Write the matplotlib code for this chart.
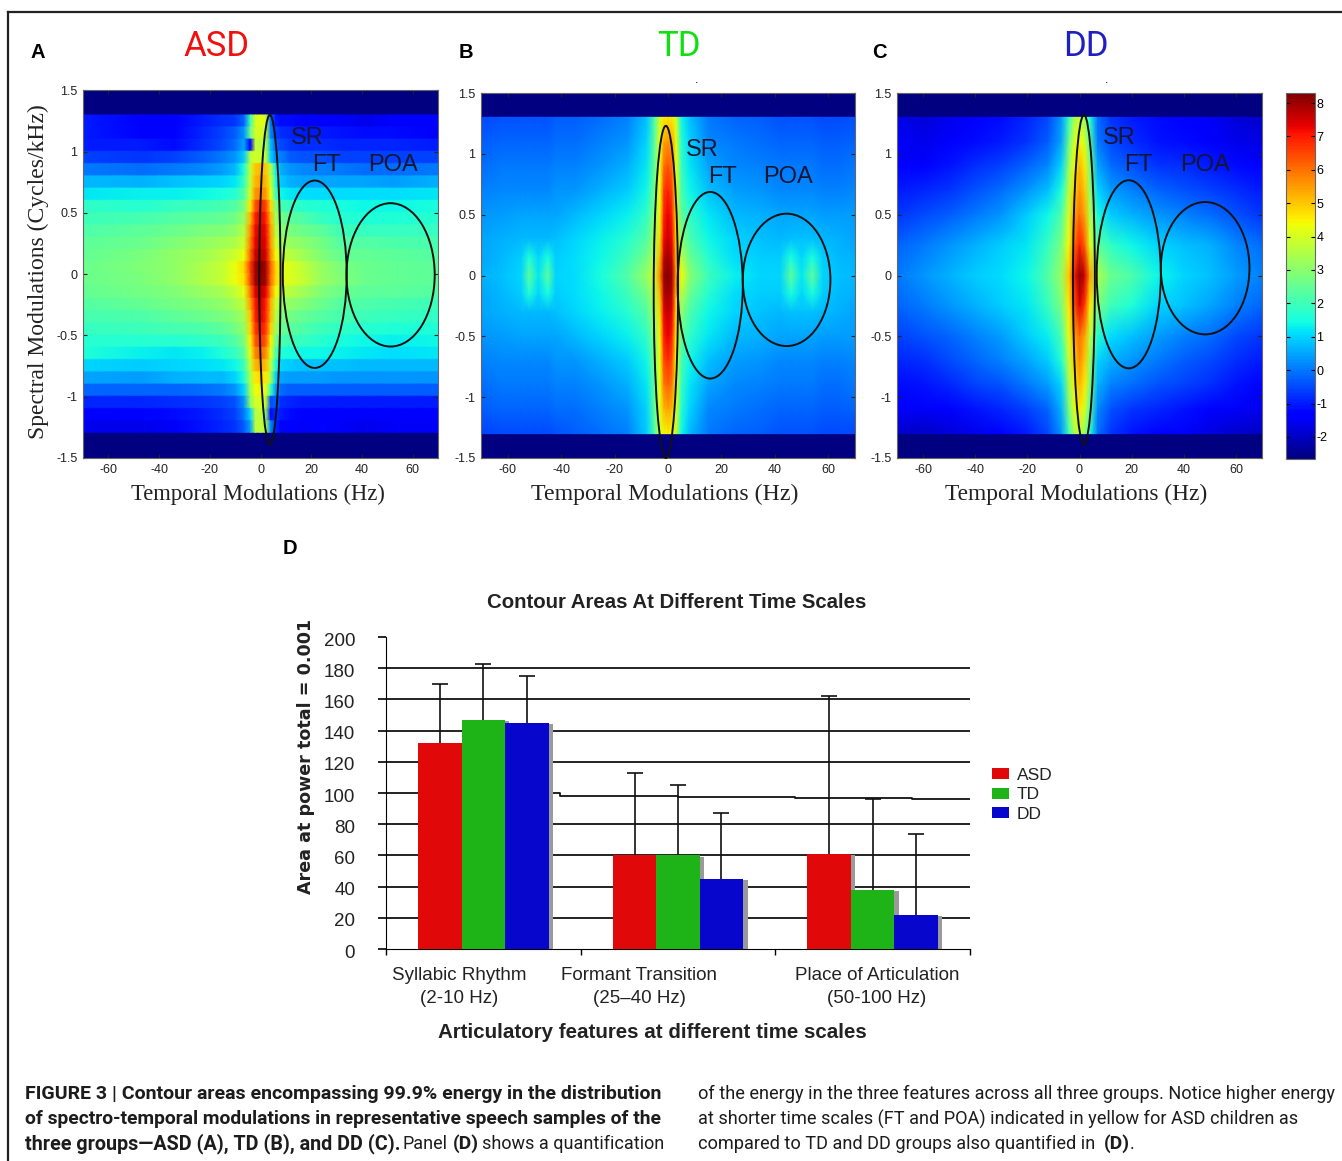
import matplotlib
matplotlib.use('Agg')
import matplotlib.pyplot as plt
import numpy as np
from matplotlib.lines import Line2D
from matplotlib.patches import Ellipse

W, H = 1342, 1161

# panel A: temporal positions (Hz), one row of cells per 0.1 cycles/kHz, top to bottom
a_x = [-70, -47, -34, -23, -15, -10, -6.5, -4, -2, 0, 2, 4, 6, 8, 11.5, 17, 24, 32, 41, 52, 70]
a_tops = [1.3, 1.2, 1.1, 1.0, 0.9, 0.8, 0.7, 0.6, 0.5, 0.4, 0.3, 0.2, 0.1, 0.0, -0.1, -0.2, -0.3, -0.4, -0.5, -0.6, -0.7, -0.8, -0.9, -1.0, -1.1, -1.2]
a_vals = [
    [-1.0, -1.4, -1.3, -1.0, -0.8, -0.7, -0.2, 2.0, 4.0, 4.2, 4.0, 0.0, -1.0, -1.2, -1.2, -1.3, -1.3, -1.5, -1.6, -1.4, -1.3],
    [-1.0, -1.3, -1.3, -0.9, -0.6, -0.3, 0.3, 2.5, 4.0, 4.0, 3.8, 0.2, -0.6, -0.8, -0.9, -1.0, -1.0, -1.1, -1.2, -1.2, -1.5],
    [-1.0, -1.0, -1.2, -0.8, -0.5, -0.1, 0.5, -1.5, 3.8, 3.6, 3.6, 0.8, -0.3, -0.5, -0.7, -0.8, -0.8, -0.9, -0.9, -0.9, -1.0],
    [-0.6, -0.7, -0.6, -0.3, 0.0, 0.3, 0.9, 3.6, 4.0, 3.8, 3.8, 1.0, 0.2, 0.1, -0.3, -0.4, -0.4, -0.6, -0.6, -0.6, -0.6],
    [0.0, -0.1, 0.0, 0.2, 0.4, 0.7, 1.6, 3.8, 5.0, 5.2, 5.0, 3.6, 1.3, 0.6, 0.3, 0.2, 0.1, 0.0, -0.1, -0.1, 0.0],
    [0.7, 0.6, 0.8, 0.9, 1.0, 1.2, 1.9, 3.8, 5.2, 5.4, 5.2, 4.0, 1.5, 0.9, 0.6, 0.5, 0.5, 0.5, 0.5, 0.4, 0.6],
    [1.2, 1.3, 1.3, 1.4, 1.5, 1.7, 2.3, 4.0, 5.6, 5.8, 5.6, 4.3, 2.0, 1.4, 1.2, 1.1, 1.1, 1.1, 1.1, 1.1, 1.2],
    [1.8, 1.7, 1.9, 2.0, 2.1, 2.3, 2.8, 4.6, 6.4, 6.9, 6.6, 4.8, 3.0, 2.1, 1.9, 1.7, 1.6, 1.5, 1.4, 1.4, 1.5],
    [2.0, 2.1, 2.3, 2.4, 2.5, 2.7, 3.2, 5.2, 7.0, 7.3, 7.0, 5.2, 3.4, 2.7, 2.4, 2.2, 1.9, 1.7, 1.6, 1.6, 1.7],
    [2.2, 2.4, 2.6, 2.8, 2.9, 3.1, 3.6, 5.6, 7.2, 7.5, 7.2, 5.5, 3.7, 3.0, 2.8, 2.6, 2.4, 2.0, 1.9, 1.9, 1.9],
    [2.4, 2.6, 2.9, 3.1, 3.3, 3.5, 3.9, 5.8, 7.3, 7.6, 7.3, 5.6, 4.0, 3.3, 3.2, 3.0, 2.7, 2.3, 2.3, 2.2, 2.1],
    [2.5, 2.8, 3.1, 3.3, 3.6, 3.9, 4.3, 6.1, 7.6, 7.8, 7.5, 5.8, 4.4, 3.8, 3.6, 3.3, 2.9, 2.5, 2.5, 2.4, 2.3],
    [2.6, 2.9, 3.1, 3.5, 3.8, 4.3, 4.8, 6.6, 8.0, 8.3, 7.9, 6.2, 4.8, 4.2, 4.1, 3.7, 3.2, 2.8, 2.6, 2.5, 2.4],
    [2.6, 2.8, 3.1, 3.5, 3.8, 4.3, 4.7, 6.5, 8.0, 8.2, 7.9, 6.1, 4.8, 4.2, 4.1, 3.8, 3.2, 2.9, 2.6, 2.5, 2.4],
    [2.5, 2.7, 2.9, 3.2, 3.4, 3.8, 4.2, 5.9, 7.4, 7.8, 7.3, 5.7, 4.4, 3.8, 3.6, 3.3, 2.9, 2.6, 2.4, 2.4, 2.3],
    [2.3, 2.5, 2.7, 2.9, 3.1, 3.4, 3.8, 5.4, 7.1, 7.5, 7.0, 5.3, 3.9, 3.2, 3.1, 2.9, 2.6, 2.3, 2.2, 2.1, 2.0],
    [2.1, 2.2, 2.4, 2.6, 2.8, 3.0, 3.4, 5.0, 7.0, 7.4, 6.9, 5.2, 3.6, 2.9, 2.7, 2.5, 2.3, 2.1, 2.0, 1.9, 1.8],
    [1.9, 2.0, 2.1, 2.2, 2.4, 2.7, 3.1, 4.8, 6.7, 7.1, 6.7, 4.9, 3.3, 2.6, 2.4, 2.2, 2.0, 1.8, 1.7, 1.6, 1.6],
    [1.7, 1.7, 1.7, 1.8, 2.0, 2.3, 2.8, 4.5, 6.3, 6.8, 6.3, 4.5, 2.8, 2.2, 2.0, 1.9, 1.7, 1.5, 1.4, 1.3, 1.4],
    [1.6, 1.3, 1.2, 1.3, 1.6, 1.9, 2.4, 4.2, 5.8, 6.1, 5.7, 4.2, 2.2, 1.6, 1.5, 1.4, 1.4, 1.3, 1.2, 1.1, 1.2],
    [1.0, 0.9, 1.0, 1.1, 1.2, 1.4, 2.0, 3.8, 5.2, 5.4, 5.1, 3.8, 1.5, 1.0, 0.9, 0.8, 0.8, 0.8, 0.7, 0.7, 0.7],
    [0.5, 0.4, 0.6, 0.7, 0.7, 1.0, 1.6, 3.5, 4.6, 4.8, 4.6, 3.4, 1.0, 0.5, 0.4, 0.4, 0.4, 0.3, 0.3, 0.3, 0.3],
    [-0.2, -0.2, -0.2, -0.1, 0.0, 0.3, 1.0, 3.3, 4.3, 4.5, 4.3, 2.0, 0.4, -0.1, -0.3, -0.3, -0.3, -0.3, -0.3, -0.3, -0.3],
    [-0.9, -0.9, -0.8, -0.7, -0.6, -0.4, 0.3, 3.0, 4.0, 4.0, 3.8, -0.4, -0.3, -0.8, -0.9, -1.0, -1.0, -1.0, -1.0, -1.0, -1.0],
    [-1.4, -1.3, -1.2, -1.0, -0.8, -0.6, 0.0, 1.0, 3.6, 3.8, 3.0, -1.2, -0.8, -1.0, -1.2, -1.3, -1.3, -1.3, -1.4, -1.4, -1.3],
    [-1.6, -1.6, -1.5, -1.1, -0.9, -0.7, -0.3, 0.5, 3.6, 3.8, 3.4, 0.2, -0.9, -1.3, -1.4, -1.5, -1.4, -1.5, -1.6, -1.5, -1.5],
]

# panel B, smooth
b_x = [-70, -62, -55, -52, -48.5, -45, -42, -35, -25, -15, -8, -5, -3, -1.5, 0, 1.5, 3, 5, 8, 15, 25, 35, 42, 46, 50, 54, 58, 64, 70]
b_y = [1.3, 1.1, 0.9, 0.7, 0.5, 0.3, 0.15, 0, -0.15, -0.3, -0.5, -0.7, -0.9, -1.1, -1.3]
b_vals = [
    [-0.5, -0.4, -0.4, -0.4, -0.4, -0.4, -0.3, -0.3, -0.1, 0.1, 0.8, 2.2, 4.0, 4.5, 4.6, 4.5, 4.0, 1.4, 0.8, 0.0, -0.2, -0.3, -0.4, -0.4, -0.4, -0.4, -0.5, -0.5, -0.4],
    [-0.3, -0.2, -0.2, -0.2, -0.2, -0.2, -0.1, -0.1, 0.1, 0.3, 1.0, 2.4, 4.2, 5.4, 5.6, 5.4, 4.2, 1.7, 1.0, 0.2, 0.0, -0.1, -0.2, -0.2, -0.2, -0.2, -0.3, -0.3, -0.2],
    [-0.1, 0.0, 0.0, 0.0, 0.0, 0.0, 0.1, 0.1, 0.3, 0.6, 1.2, 2.5, 4.3, 6.0, 6.3, 6.0, 4.3, 1.9, 1.2, 0.5, 0.2, 0.1, 0.0, 0.0, 0.0, 0.0, -0.1, -0.1, 0.0],
    [0.1, 0.2, 0.2, 0.2, 0.2, 0.2, 0.3, 0.3, 0.6, 0.9, 1.4, 2.7, 4.4, 6.6, 6.9, 6.5, 4.4, 2.1, 1.4, 0.8, 0.4, 0.3, 0.2, 0.2, 0.2, 0.2, 0.1, 0.1, 0.2],
    [0.3, 0.4, 0.5, 0.5, 0.5, 0.5, 0.5, 0.7, 1.0, 1.3, 1.8, 2.9, 4.5, 6.9, 7.3, 6.9, 4.6, 2.4, 1.8, 1.2, 0.7, 0.6, 0.5, 0.5, 0.5, 0.5, 0.4, 0.4, 0.4],
    [0.5, 0.6, 0.7, 0.7, 0.7, 0.7, 0.8, 1.0, 1.3, 1.7, 2.3, 3.3, 4.8, 7.2, 7.6, 7.2, 4.9, 3.0, 2.2, 1.4, 1.0, 0.8, 0.7, 0.8, 0.8, 0.8, 0.7, 0.6, 0.5],
    [0.5, 0.7, 0.9, 1.6, 1.0, 1.5, 0.9, 1.1, 1.4, 2.0, 2.7, 3.6, 5.2, 7.6, 8.0, 7.5, 5.2, 3.6, 2.6, 1.7, 1.1, 0.9, 0.9, 1.5, 1.0, 1.5, 0.9, 0.7, 0.6],
    [0.6, 0.8, 1.0, 2.4, 1.2, 2.4, 1.0, 1.1, 1.5, 2.3, 3.2, 4.0, 5.8, 8.0, 8.3, 7.9, 5.6, 4.4, 3.0, 2.0, 1.3, 1.0, 1.0, 2.4, 1.2, 2.4, 1.0, 0.8, 0.7],
    [0.5, 0.7, 0.9, 1.6, 1.0, 1.5, 0.9, 1.1, 1.4, 2.0, 2.7, 3.6, 5.2, 7.7, 8.1, 7.6, 5.2, 3.6, 2.6, 1.7, 1.1, 0.9, 0.9, 1.5, 1.0, 1.5, 0.9, 0.7, 0.6],
    [0.5, 0.6, 0.7, 0.7, 0.7, 0.7, 0.8, 1.0, 1.3, 1.7, 2.3, 3.3, 4.8, 7.3, 7.7, 7.3, 4.9, 3.0, 2.2, 1.4, 1.0, 0.8, 0.7, 0.8, 0.8, 0.8, 0.7, 0.6, 0.5],
    [0.3, 0.4, 0.5, 0.5, 0.5, 0.5, 0.5, 0.7, 1.0, 1.3, 1.8, 2.9, 4.5, 7.0, 7.3, 6.9, 4.6, 2.4, 1.8, 1.2, 0.7, 0.6, 0.5, 0.5, 0.5, 0.5, 0.4, 0.4, 0.4],
    [0.1, 0.2, 0.2, 0.2, 0.2, 0.2, 0.3, 0.3, 0.6, 0.9, 1.4, 2.7, 4.4, 6.5, 6.8, 6.4, 4.4, 2.1, 1.4, 0.8, 0.4, 0.3, 0.2, 0.2, 0.2, 0.2, 0.1, 0.1, 0.2],
    [-0.1, 0.0, 0.0, 0.0, 0.0, 0.0, 0.1, 0.1, 0.3, 0.6, 1.2, 2.5, 4.3, 5.9, 6.2, 5.9, 4.3, 1.9, 1.2, 0.5, 0.2, 0.1, 0.0, 0.0, 0.0, 0.0, -0.1, -0.1, 0.0],
    [-0.3, -0.2, -0.2, -0.2, -0.2, -0.2, -0.1, -0.1, 0.1, 0.3, 1.0, 2.4, 4.2, 5.2, 5.4, 5.2, 4.2, 1.7, 1.0, 0.2, 0.0, -0.1, -0.2, -0.2, -0.2, -0.2, -0.3, -0.3, -0.2],
    [-0.6, -0.5, -0.5, -0.5, -0.5, -0.5, -0.4, -0.3, -0.1, 0.1, 0.9, 2.2, 4.0, 4.4, 4.5, 4.4, 3.8, 1.4, 0.7, 0.0, -0.2, -0.3, -0.4, -0.4, -0.4, -0.4, -0.5, -0.5, -0.5],
]

# panel C, smooth
c_x = [-70, -60, -50, -40, -30, -20, -12, -7, -4, -2, 0, 2, 4, 7, 12, 20, 30, 40, 50, 60, 70]
c_y = [1.3, 1.1, 0.9, 0.7, 0.5, 0.25, 0, -0.25, -0.5, -0.7, -0.9, -1.1, -1.3]
c_vals = [
    [-1.6, -1.8, -1.6, -1.4, -1.2, -0.9, -0.5, 0.3, 1.8, 3.4, 3.6, 3.2, 1.5, -0.1, -0.7, -1.0, -1.2, -1.3, -1.5, -1.8, -1.9],
    [-1.5, -1.6, -1.4, -1.2, -1.0, -0.7, -0.3, 0.5, 2.6, 4.0, 4.4, 4.0, 2.2, 0.0, -0.5, -0.8, -1.1, -1.2, -1.4, -1.6, -1.7],
    [-1.3, -1.3, -1.1, -0.8, -0.6, -0.2, 0.2, 1.0, 3.2, 4.4, 5.2, 4.6, 2.8, 0.5, -0.1, -0.4, -0.7, -0.8, -1.0, -1.2, -1.4],
    [-1.0, -0.9, -0.7, -0.4, -0.1, 0.3, 0.8, 1.5, 3.6, 4.8, 5.6, 5.0, 3.2, 1.0, 0.4, 0.1, -0.2, -0.4, -0.6, -0.8, -1.0],
    [-0.7, -0.5, -0.3, 0.0, 0.3, 0.9, 1.4, 2.2, 4.0, 5.4, 6.0, 5.4, 3.6, 1.5, 0.9, 0.6, 0.3, 0.1, -0.1, -0.4, -0.7],
    [-0.2, 0.0, 0.3, 0.6, 0.9, 1.2, 1.9, 2.8, 4.4, 6.0, 7.0, 6.2, 4.2, 2.4, 1.8, 1.4, 1.0, 0.8, 0.6, 0.2, -0.1],
    [0.0, 0.3, 0.6, 0.9, 1.1, 1.4, 2.3, 3.2, 5.0, 7.0, 8.2, 7.5, 5.5, 3.5, 2.6, 2.2, 1.4, 1.0, 0.8, 0.4, 0.1],
    [-0.2, 0.0, 0.3, 0.6, 0.9, 1.2, 1.9, 2.8, 4.6, 6.3, 7.4, 6.6, 4.6, 2.8, 2.0, 1.6, 1.0, 0.8, 0.5, 0.1, -0.2],
    [-0.6, -0.4, -0.2, 0.1, 0.4, 0.9, 1.3, 2.1, 4.2, 5.4, 6.0, 5.4, 3.8, 1.7, 1.1, 0.8, 0.4, 0.1, -0.1, -0.5, -0.7],
    [-0.9, -0.8, -0.5, -0.2, 0.1, 0.5, 0.9, 1.6, 3.8, 4.9, 5.7, 5.0, 3.3, 1.0, 0.6, 0.3, 0.0, -0.3, -0.5, -0.8, -1.0],
    [-1.2, -1.1, -0.9, -0.6, -0.4, 0.0, 0.4, 1.0, 3.3, 4.5, 5.2, 4.6, 2.9, 0.6, 0.1, -0.1, -0.4, -0.6, -0.8, -1.1, -1.3],
    [-1.5, -1.5, -1.3, -1.1, -0.9, -0.6, -0.2, 0.6, 2.8, 4.1, 4.6, 4.0, 2.3, 0.2, -0.4, -0.7, -0.9, -1.1, -1.3, -1.5, -1.6],
    [-1.9, -2.0, -1.8, -1.6, -1.3, -1.0, -0.5, 0.3, 2.0, 3.5, 3.6, 3.2, 1.6, -0.1, -0.7, -1.1, -1.3, -1.5, -1.7, -1.9, -2.0],
]

# contours: SR, FT, POA as centre and half axes in (Hz, cycles/kHz)
a_centres = [(3.7, -0.045), (21.4, 0.0), (51.3, -0.005)]
a_axes = [(4.2, 1.345), (12.6, 0.765), (17.4, 0.585)]
b_centres = [(-0.8, -0.135), (15.8, -0.08), (44.4, -0.036)]
b_axes = [(4.55, 1.365), (12.2, 0.767), (16.4, 0.544)]
c_centres = [(1.7, -0.035), (18.9, 0.01), (48.2, 0.06)]
c_axes = [(4.2, 1.355), (12.3, 0.773), (17.0, 0.544)]
contour_names = ['SR', 'FT', 'POA']

x_ticks = [-60, -40, -20, 0, 20, 40, 60]
y_ticks = [-1.5, -1, -0.5, 0, 0.5, 1, 1.5]
y_labels = ['-1.5', '-1', '-0.5', '0', '0.5', '1', '1.5']
cbar_ticks = [-2, -1, 0, 1, 2, 3, 4, 5, 6, 7, 8]

# panel D
features = ['Syllabic Rhythm\n(2-10 Hz)', 'Formant Transition\n(25\u201340 Hz)', 'Place of Articulation\n(50-100 Hz)']
groups = ['ASD', 'TD', 'DD']
asd_area = [132, 60, 61]
td_area = [147, 60, 38]
dd_area = [145, 45, 22]
asd_top = [170, 113, 162]
td_top = [183, 105, 96]
dd_top = [175, 87, 74]
grid_values = [20, 40, 60, 80, 120, 140, 160, 180]
drift_x = [-0.5, 0.394, 0.394, 1.0, 1.0, 1.6, 1.6, 2.2, 2.2, 2.5]
drift_y = [100, 100, 98.2, 98.2, 97.6, 97.6, 96.9, 96.9, 96.1, 96.1]

plt.rcParams['font.family'] = ['Liberation Sans', 'DejaVu Sans']
plt.rcParams['axes.unicode_minus'] = False
fig = plt.figure(figsize=(W / 100, H / 100), dpi=100, facecolor='white')


def add_axes(l, t, r, b):
    return fig.add_axes([l / W, 1 - b / H, (r - l) / W, (b - t) / H])


def put(x, y, s, **kw):
    kw.setdefault('ha', 'center')
    kw.setdefault('va', 'center')
    return fig.text(x / W, 1 - y / H, s, **kw)


def style_map(ax):
    ax.set_facecolor(plt.get_cmap('jet')(0.0))
    ax.set_xlim(-70, 70)
    ax.set_ylim(-1.5, 1.5)
    ax.set_xticks(x_ticks)
    ax.set_yticks(y_ticks, y_labels)
    ax.tick_params(direction='in', length=3, top=True, right=True, labelsize=9, pad=4, width=0.8, colors='#222222')
    for s in ax.spines.values():
        s.set_color('#666666')


def contours(ax, centres, axes):
    for c, a in zip(centres, axes):
        ax.add_patch(Ellipse(c, 2 * a[0], 2 * a[1], fill=False, ec='#111111', lw=1.4, clip_on=False, zorder=3))


vmin, vmax = -2.66, 8.3

ax_a = add_axes(83, 90.5, 438, 458)
# every row keeps its value down its own cell, so the rows stay as steps
a_y = [v for top in a_tops for v in (top, top - 0.09)]
mesh = ax_a.pcolormesh(a_x, a_y, np.repeat(a_vals, 2, axis=0), cmap='jet', vmin=vmin, vmax=vmax, shading='gouraud')
style_map(ax_a)
contours(ax_a, a_centres, a_axes)

ax_b = add_axes(481, 93, 855, 458)
ax_b.pcolormesh(b_x, b_y, np.array(b_vals), cmap='jet', vmin=vmin, vmax=vmax, shading='gouraud')
style_map(ax_b)
contours(ax_b, b_centres, b_axes)

ax_c = add_axes(897, 93, 1262, 458)
ax_c.pcolormesh(c_x, c_y, np.array(c_vals), cmap='jet', vmin=vmin, vmax=vmax, shading='gouraud')
style_map(ax_c)
contours(ax_c, c_centres, c_axes)

cax = add_axes(1286, 93, 1315, 459)
cb = fig.colorbar(mesh, cax=cax, ticks=cbar_ticks)
cb.outline.set_edgecolor('#666666')
cax.tick_params(direction='in', length=3, left=True, right=True, labelsize=9, pad=1, width=0.8)

# panel titles, letters, contour names
for x, s, c in [(216, 'ASD', '#f01010'), (679, 'TD', '#10e010'), (1086, 'DD', '#2020c0')]:
    put(x, 47, s, color=c, fontsize=25, family='Roboto')
for x, y, s in [(38, 53, 'A'), (466, 53, 'B'), (879, 53, 'C'), (290, 549, 'D')]:
    put(x, y, s, fontsize=14.5, fontweight='bold')
for xs, ys in [((307, 327, 393), (138, 165, 165)), ((702, 722, 788), (150, 177, 177)), ((1119, 1139, 1205), (138, 165, 165))]:
    for x, y, s in zip(xs, ys, contour_names):
        put(x, y, s, fontsize=17, color='#151530')
for x, size in [(258, 16.3), (665, 17.2), (1076, 16.8)]:
    put(x, 494, 'Temporal Modulations (Hz)', family='Liberation Serif', fontsize=size, color='#222222')
put(38, 272, 'Spectral Modulations (Cycles/kHz)', family='Liberation Serif', fontsize=17, color='#222222', rotation=90)
put(697, 80, '.', fontsize=9)
put(1107, 80, '.', fontsize=9)

# panel D
ax_d = add_axes(386, 637, 970, 949)
pos = np.arange(3)
bw = 0.2234
offs = [-bw, 0, bw]
cols = ['#e00808', '#1eb418', '#0606cc']
gray_dx = 0.022
ax_d.hlines(grid_values, -0.5, 2.5, color='#111111', lw=1.3, zorder=1)
ax_d.plot(drift_x, drift_y, color='#111111', lw=1.3, zorder=1)
handles = []
for off, vals, tops, col, name in zip(offs, [asd_area, td_area, dd_area], [asd_top, td_top, dd_top], cols, groups):
    ax_d.bar(pos + off + gray_dx, np.array(vals) - 1, bw, color='#9a9a9a', zorder=2)
    handles.append(ax_d.bar(pos + off, vals, bw, color=col, zorder=3, label=name))
    ax_d.vlines(pos + off, vals, tops, color='#111111', lw=1.2, zorder=4)
    ax_d.plot(pos + off, tops, ls='none', marker='_', ms=12, mew=1.2, color='#111111', zorder=4)
ax_d.set_xlim(-0.5, 2.5)
ax_d.set_ylim(0, 200)
ax_d.set_xticks([-0.5, 0.5, 1.5, 2.5], ['', '', '', ''])
ax_d.set_yticks(np.arange(0, 201, 20), [''] * 11)
ax_d.tick_params(axis='y', length=6, width=1.2)
ax_d.tick_params(axis='x', length=4, width=1.0)
ax_d.spines[['top', 'right']].set_visible(False)
ax_d.patch.set_alpha(0)
for v in np.arange(0, 201, 20):
    put(355, 953 - v * 1.56, str(v), ha='right', fontsize=13.5, color='#222222')
for x, s in zip((459, 639, 877), features):
    put(x, 987, s, fontsize=13.5, color='#222222', linespacing=1.4)
put(677, 603, 'Contour Areas At Different Time Scales', fontsize=14.7, fontweight='bold', color='#222222')
put(652, 1033, 'Articulatory features at different time scales', fontsize=14.8, fontweight='bold', color='#222222')
put(306, 756, 'Area at power total = 0.001', rotation=90, fontsize=12.6, fontweight='bold', family='DejaVu Sans', color='#222222')
ax_d.legend(handles=handles, loc='upper left', bbox_to_anchor=(992 / W, 1 - 768 / H), bbox_transform=fig.transFigure,
            frameon=False, fontsize=12.5, handlelength=0.98, handleheight=0.6, handletextpad=0.45, labelspacing=0.25,
            borderpad=0, borderaxespad=0, labelcolor='#222222')

# frame
fig.add_artist(Line2D([8 / W, 1], [1 - 12 / H, 1 - 12 / H], color='#222222', lw=1.6))
fig.add_artist(Line2D([8 / W, 8 / W], [0, 1 - 12 / H], color='#222222', lw=1.6))

# caption
cap = dict(ha='left', family='Roboto', color='#1c1c1c')
put(25, 1094, 'FIGURE 3 | Contour areas encompassing 99.9% energy in the distribution', fontweight='bold', fontsize=14, **cap)
put(25, 1119, 'of spectro-temporal modulations in representative speech samples of the', fontweight='bold', fontsize=13.85, **cap)
put(25, 1144, 'three groups\u2014ASD (A), TD (B), and DD (C).', fontweight='bold', fontsize=14.2, **cap)
put(403, 1144, 'Panel', fontsize=13, **cap)
put(453, 1144, '(D)', fontweight='bold', fontsize=13.9, **cap)
put(482, 1144, 'shows a quantification', fontsize=13, **cap)
put(698, 1094, 'of the energy in the three features across all three groups. Notice higher energy', fontsize=13.07, **cap)
put(698, 1119, 'at shorter time scales (FT and POA) indicated in yellow for ASD children as', fontsize=13.07, **cap)
put(698, 1144, 'compared to TD and DD groups also quantified in', fontsize=13.07, **cap)
put(1104, 1144, '(D)', fontweight='bold', fontsize=13.9, **cap)
put(1130, 1144, '.', fontsize=13, **cap)

fig.savefig('out.png', dpi=100)
